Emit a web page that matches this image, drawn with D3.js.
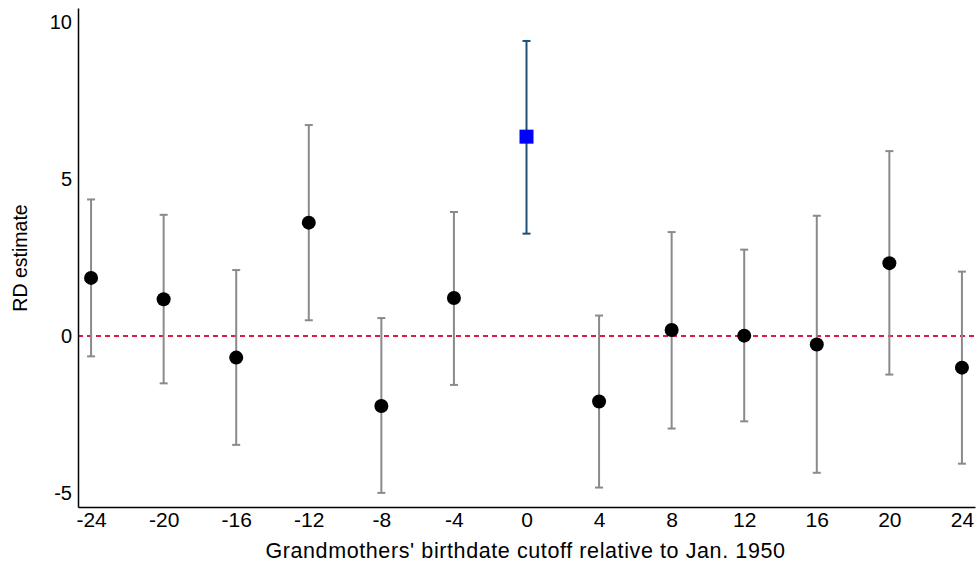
<!DOCTYPE html>
<html><head><meta charset="utf-8">
<script src="https://d3js.org/d3.v7.min.js"></script>
<style>body{margin:0;background:#fff;} text{font-family:"Liberation Sans",Arial,sans-serif;}</style>
</head><body><svg id="c" width="977" height="567"></svg>
<script>
const cutoffs = [-24,-20,-16,-12,-8,-4,0,4,8,12,16,20,24];
const estimates = [1.85,1.17,-0.69,3.61,-2.23,1.21,6.35,-2.09,0.19,0.01,-0.27,2.32,-1.01];
const lower = [-0.65,-1.51,-3.47,0.50,-5.0,-1.56,3.26,-4.83,-2.95,-2.72,-4.36,-1.23,-4.07];
const upper = [4.35,3.86,2.10,6.72,0.57,3.95,9.40,0.65,3.31,2.75,3.83,5.89,2.05];
const xTicks = [-24,-20,-16,-12,-8,-4,0,4,8,12,16,20,24];
const yTicks = [-5,0,5,10];

const svg = d3.select("#c");
const L=78, R=975, T=8, B=507;
const x = d3.scaleLinear().domain([-24.72,24.72]).range([L,R]);
const y = d3.scaleLinear().domain([-5.45,10.45]).range([B,T]);

const data = cutoffs.map((c,i)=>({c, e:estimates[i], lo:lower[i], hi:upper[i]}));

// zero line
svg.append("line").attr("x1",L).attr("x2",R).attr("y1",y(0)).attr("y2",y(0))
  .attr("stroke","#d81b4a").attr("stroke-width",2).attr("stroke-dasharray","5,4");

// error bars
const g = svg.append("g");
data.forEach(d=>{
  const col = d.c===0 ? "#1f4e79" : "#8a8a8a";
  g.append("line").attr("x1",x(d.c)).attr("x2",x(d.c)).attr("y1",y(d.lo)).attr("y2",y(d.hi))
    .attr("stroke",col).attr("stroke-width",2);
  [d.lo,d.hi].forEach(v=>g.append("line").attr("x1",x(d.c)-4).attr("x2",x(d.c)+4)
    .attr("y1",y(v)).attr("y2",y(v)).attr("stroke",col).attr("stroke-width",2));
});
// points
data.filter(d=>d.c!==0).forEach(d=>{
  g.append("circle").attr("cx",x(d.c)).attr("cy",y(d.e)).attr("r",7).attr("fill","#000");
});
data.filter(d=>d.c===0).forEach(d=>{
  g.append("rect").attr("x",x(d.c)-7).attr("y",y(d.e)-7).attr("width",14).attr("height",14).attr("fill","#0000ff");
});

const fmt = d => String(d);
// axes
const xa = svg.append("g").attr("transform",`translate(0,${B})`)
  .call(d3.axisBottom(x).tickValues(xTicks).tickSize(0).tickPadding(5).tickFormat(fmt));
xa.attr("font-size",null).attr("font-family",null);
xa.select(".domain").attr("stroke","#000").attr("stroke-width",1.5);
xa.selectAll("text").style("font-size","21px").attr("fill","#000");
const ya = svg.append("g").attr("transform",`translate(${L},0)`)
  .call(d3.axisLeft(y).tickValues(yTicks).tickSize(0).tickPadding(6).tickFormat(fmt));
ya.attr("font-size",null).attr("font-family",null);
ya.select(".domain").attr("stroke","#000").attr("stroke-width",1.5);
ya.selectAll("text").style("font-size","20px").attr("fill","#000");

svg.append("text").attr("x",(L+R)/2-1).attr("y",558).attr("text-anchor","middle")
  .style("font-size","21.5px").attr("letter-spacing",0.6).text("Grandmothers' birthdate cutoff relative to Jan. 1950");
svg.append("text").attr("transform",`translate(27,258) rotate(-90)`).attr("text-anchor","middle")
  .style("font-size","19.5px").text("RD estimate");
</script></body></html>
